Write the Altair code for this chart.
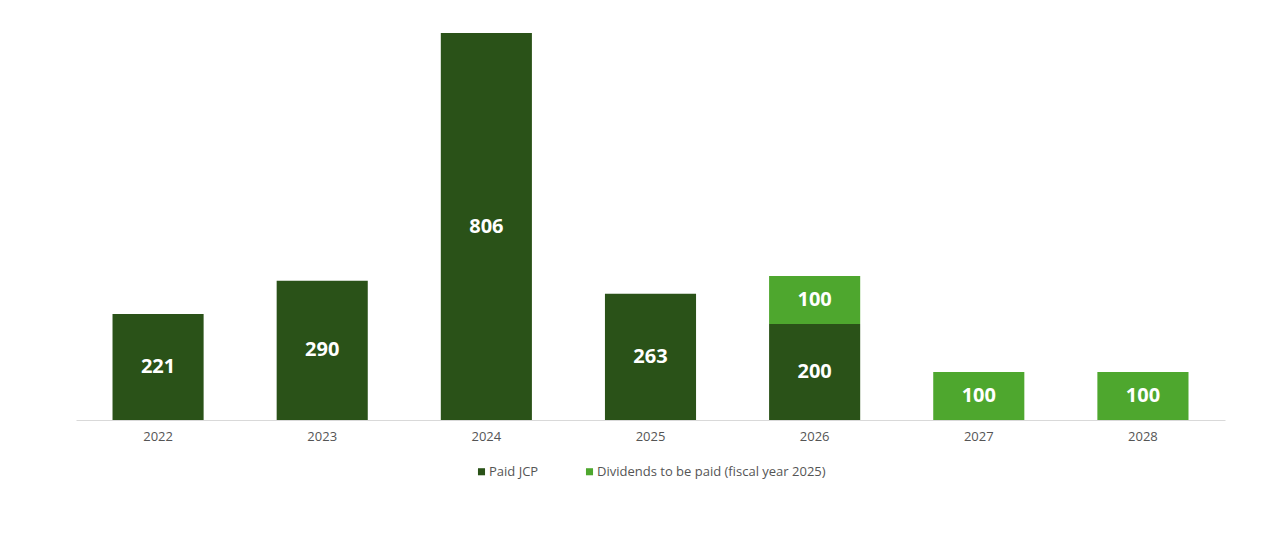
import altair as alt
import pandas as pd

years = ["2022", "2023", "2024", "2025", "2026", "2027", "2028"]
paid_jcp = [221, 290, 806, 263, 200, 0, 0]
dividends = [0, 0, 0, 0, 100, 100, 100]
series = ["Paid JCP", "Dividends to be paid (fiscal year 2025)"]
colors = ["#2a5218", "#4ea72e"]

rows = []
for y, a, b in zip(years, paid_jcp, dividends):
    if a:
        rows.append({"year": y, "series": series[0], "value": a, "ord": 0})
    if b:
        rows.append({"year": y, "series": series[1], "value": b, "ord": 1})
df = pd.DataFrame(rows)

x = alt.X("year:N", sort=years, title=None,
          scale=alt.Scale(paddingInner=0.445, paddingOuter=0.2225),
          axis=alt.Axis(labelAngle=0, labelFontSize=13, labelColor="#555555",
                        labelFont="Open Sans", domainColor="#d9d9d9", ticks=False,
                        labelPadding=10))
yscale = alt.Scale(domain=[0, 806], nice=False)

base = alt.Chart(df).transform_stack(
    stack="value", groupby=["year"], as_=["v0", "v1"], sort=[alt.SortField("ord")]
).transform_calculate(mid="(datum.v0 + datum.v1) / 2")

bars = base.mark_bar().encode(
    x=x,
    y=alt.Y("v0:Q", scale=yscale, axis=None),
    y2="v1:Q",
    color=alt.Color("series:N", sort=series,
                    scale=alt.Scale(domain=series, range=colors),
                    legend=alt.Legend(title=None, orient="none", direction="horizontal",
                                      legendX=399, legendY=432, symbolType="square",
                                      symbolSize=50, symbolStrokeWidth=0,
                                      labelFontSize=13, labelColor="#555555",
                                      labelFont="Open Sans", columnPadding=44,
                                      labelOffset=1, labelLimit=0)),
)

labels = base.mark_text(color="white", fontSize=20, fontWeight="bold",
                        font="Open Sans").encode(
    x=alt.X("year:N", sort=years),
    y=alt.Y("mid:Q", scale=yscale, axis=None),
    text="value:Q",
)

chart = (bars + labels).properties(
    width=1149, height=387,
    padding={"left": 68, "top": 25, "right": 40, "bottom": 100},
    autosize=alt.AutoSizeParams(type="none"),
).configure_view(stroke=None)

chart.save("out.html", embed_options={"renderer": "svg", "actions": False})
